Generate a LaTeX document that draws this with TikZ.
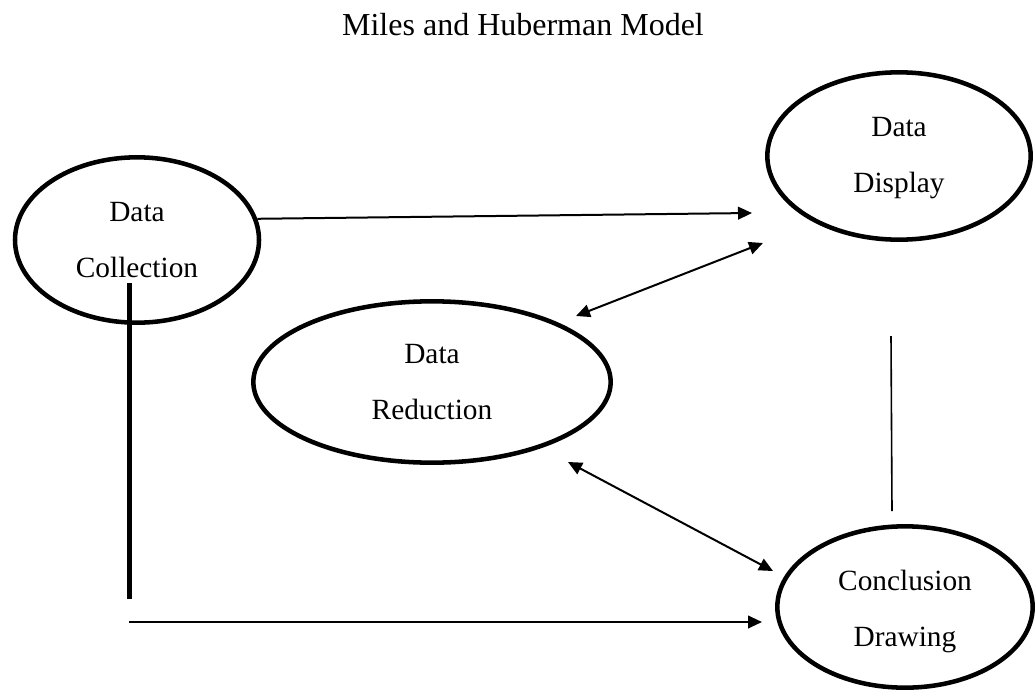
\documentclass[tikz,border=0pt]{standalone}
\usepackage{fontspec}
\setmainfont{Liberation Serif}
\usetikzlibrary{arrows.meta,shapes.geometric}

\begin{document}
\begin{tikzpicture}[x=0.75pt, y=-0.75pt,
  font=\fontsize{22}{26}\selectfont,
  stage/.style={ellipse, draw=black, line width=3.4pt, inner sep=0pt},
  words/.style={align=center},
  arrow/.style={-{Triangle[length=10.5pt,width=9.5pt]}, line width=1.5pt},
  twoway/.style={{Triangle[length=10.5pt,width=9.5pt]}-{Triangle[length=10.5pt,width=9.5pt]}, line width=1.5pt},
  heavy/.style={line width=3.75pt},
  light/.style={line width=1.2pt}
]
\useasboundingbox (0,0) rectangle (1035,696);

\node[font=\fontsize{24}{28}\selectfont] (title) at (523,25) {Miles and Huberman Model};

\node[stage, minimum width=183pt, minimum height=124pt,
  label={[words]center:Data\\[16pt]Collection}] (collection) at (137,240) {};
\node[stage, minimum width=197.5pt, minimum height=125.5pt,
  label={[words, yshift=-1.5pt]center:Data\\[16pt]Display}] (display) at (899,156) {};
\node[stage, minimum width=268pt, minimum height=121pt,
  label={[words]center:Data\\[16pt]Reduction}] (reduction) at (432,382) {};
\node[stage, minimum width=191.5pt, minimum height=121pt,
  label={[words, yshift=-3pt]center:Conclusion\\[16pt]Drawing}] (conclusion) at (905,607) {};

\coordinate (displayIn) at (752,213);
\coordinate (redTop) at (576,316);
\coordinate (dispLow) at (763,243);
\coordinate (redLow) at (568,462);
\coordinate (conclTop) at (773,571);
\coordinate (sideTop) at (891,336);
\coordinate (sideLow) at (892,511);
\coordinate (barTop) at (129,283);
\coordinate (barLow) at (129,599);
\coordinate (baseStart) at (129,622);
\coordinate (baseEnd) at (762,622);

\draw[arrow] (collection.10) -- (displayIn);
\draw[twoway] (redTop) -- (dispLow);
\draw[twoway] (redLow) -- (conclTop);
\draw[light] (sideTop) -- (sideLow);
\draw[heavy] (barTop) -- (barLow);
\draw[arrow] (baseStart) -- (baseEnd);
\end{tikzpicture}
\end{document}
